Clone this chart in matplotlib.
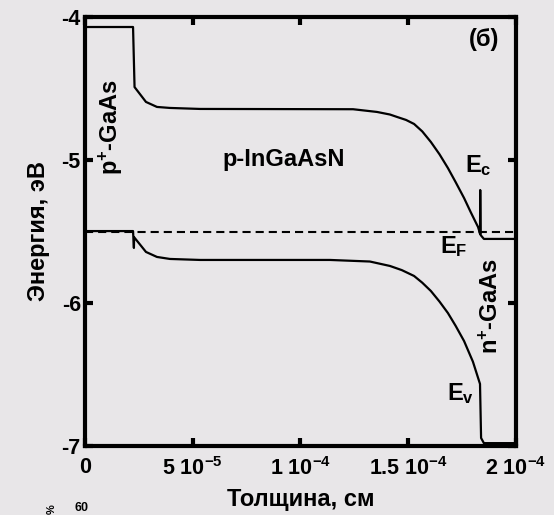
import matplotlib
matplotlib.use("Agg")
import matplotlib.pyplot as plt

# --- data (x in cm, energy in eV) ---------------------------------------
ec_x = [0, 2.23e-5, 2.30e-5, 2.83e-5, 3.34e-5, 3.94e-5, 5.34e-5, 1.244e-4,
        1.355e-4, 1.415e-4, 1.448e-4, 1.49e-4, 1.527e-4, 1.565e-4, 1.605e-4,
        1.645e-4, 1.684e-4, 1.72e-4, 1.759e-4, 1.79e-4, 1.824e-4,
        1.833e-4, 1.834e-4, 1.836e-4, 1.851e-4, 2.0e-4]
ec_y = [-4.07, -4.07, -4.49, -4.594, -4.629, -4.636, -4.643, -4.645,
        -4.664, -4.682, -4.699, -4.72, -4.748, -4.80, -4.874,
        -4.96, -5.056, -5.155, -5.266, -5.365, -5.469,
        -5.515, -5.21, -5.525, -5.552, -5.552]

ev_x = [0, 2.23e-5, 2.27e-5, 2.28e-5, 2.83e-5, 3.34e-5, 3.94e-5, 5.34e-5,
        1.137e-4, 1.322e-4, 1.415e-4, 1.47e-4, 1.527e-4, 1.565e-4, 1.605e-4,
        1.645e-4, 1.684e-4, 1.72e-4, 1.759e-4, 1.80e-4, 1.833e-4,
        1.838e-4, 1.851e-4, 2.0e-4]
ev_y = [-5.497, -5.497, -5.615, -5.54, -5.643, -5.678, -5.692, -5.699,
        -5.699, -5.71, -5.741, -5.77, -5.811, -5.858, -5.916,
        -5.99, -6.07, -6.16, -6.266, -6.41, -6.566,
        -6.944, -6.98, -6.98]

ef_x = [0, 2.0e-4]
ef_y = [-5.505, -5.505]

xticks = [0, 5e-5, 1e-4, 1.5e-4, 2e-4]
xtick_labels = ["0", "5 10$^{-5}$", "1 10$^{-4}$", "1.5 10$^{-4}$", "2 10$^{-4}$"]
yticks = [-4, -5, -6, -7]
ytick_labels = ["-4", "-5", "-6", "-7"]

plt.rcParams["font.family"] = ["Liberation Sans", "DejaVu Sans"]
plt.rcParams["font.weight"] = "bold"
plt.rcParams["mathtext.fontset"] = "custom"
plt.rcParams["mathtext.rm"] = "Liberation Sans:bold"
plt.rcParams["mathtext.it"] = "Liberation Sans:bold"
plt.rcParams["mathtext.bf"] = "Liberation Sans:bold"
plt.rcParams["mathtext.default"] = "rm"
plt.rcParams["axes.unicode_minus"] = False

bg = "#e8e6e8"
fig = plt.figure(figsize=(5.54, 5.15), dpi=100, facecolor=bg)
ax = fig.add_axes([0.1534, 0.134, 0.778, 0.833], facecolor=bg)

ax.plot(ec_x, ec_y, color="black", lw=1.6)
ax.plot(ev_x, ev_y, color="black", lw=1.6)
ax.plot(ef_x, ef_y, color="black", lw=1.5, dashes=(3.9, 2.4))

ax.set_xlim(0, 2e-4)
ax.set_ylim(-7, -4)
ax.set_xticks(xticks)
ax.set_xticklabels(xtick_labels)
ax.set_yticks(yticks)
ax.set_yticklabels(ytick_labels)
ax.tick_params(direction="in", length=6, width=3, labelsize=15.5,
               top=True, right=True)
ax.tick_params(axis="x", pad=8)
ax.tick_params(axis="y", pad=3)
for s in ax.spines.values():
    s.set_linewidth(3)

ax.set_xlabel("Толщина, см", fontsize=17, fontweight="bold", labelpad=5.5)
ax.set_ylabel("Энергия, эВ", fontsize=17, fontweight="bold", labelpad=8)

fs = 17
ax.text(1.21e-5, -4.77, "p$^{+}$-GaAs", rotation=90, ha="center", va="center",
        fontsize=fs)
ax.text(9.23e-5, -5.0, "p-InGaAsN", ha="center", va="center", fontsize=fs)
ax.text(1.763e-4, -5.084, "E$_{c}$", ha="left", va="baseline", fontsize=fs)
ax.text(1.647e-4, -5.65, "E$_{F}$", ha="left", va="baseline", fontsize=fs)
ax.text(1.68e-4, -6.678, "E$_{v}$", ha="left", va="baseline", fontsize=fs)
ax.text(1.884e-4, -6.02, "n$^{+}$-GaAs", rotation=90, ha="center", va="center",
        fontsize=fs)
ax.text(1.851e-4, -4.16, "(б)", ha="center", va="center", fontsize=fs)

# remains of the next panel at the very bottom edge
fig.text(0.135, 0.001, "60", ha="left", va="bottom", fontsize=9)
fig.text(0.085, 0.001, "%", rotation=90, ha="left", va="bottom", fontsize=8)

fig.savefig("out.png", dpi=100, facecolor=bg)
